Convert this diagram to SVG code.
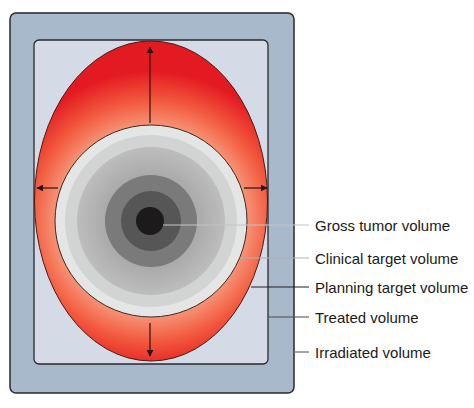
<svg xmlns="http://www.w3.org/2000/svg" width="474" height="408" viewBox="0 0 474 408">
<style>
.lbl{font-family:"Liberation Sans",Arial,sans-serif;font-size:15px;fill:#1a1a1a}
.arr{stroke:#3a1a12;stroke-width:1.3;fill:none}
.lead{stroke-width:1.2;fill:none}
</style>
<defs>
<radialGradient id="redg" gradientUnits="userSpaceOnUse" cx="151" cy="221" r="150">
<stop offset="0.62" stop-color="#f7997c"/>
<stop offset="0.8" stop-color="#f25a3e"/>
<stop offset="1" stop-color="#e41a22"/>
</radialGradient>
<radialGradient id="g74" gradientUnits="userSpaceOnUse" cx="151" cy="221" r="74">
<stop offset="0.6" stop-color="#a9a9a9"/>
<stop offset="1" stop-color="#bdbdbd"/>
</radialGradient>
<marker id="ah" viewBox="0 0 10 10" refX="9" refY="5" markerWidth="7" markerHeight="7" markerUnits="userSpaceOnUse" orient="auto">
<path d="M0,0 L10,5 L0,10 z" fill="#2a120c"/>
</marker>
</defs>
<g id="irradiated">
<rect x="10" y="13" width="284" height="380" rx="6" fill="#a9b9cc" stroke="#2a2a2a" stroke-width="1.5"/>
</g>
<g id="treated">
<rect x="34" y="40" width="234" height="324" rx="5" fill="#d4dbe6" stroke="#2a2a2a" stroke-width="1.3"/>
</g>
<g id="planning">
<ellipse cx="151" cy="201" rx="116.5" ry="160" fill="url(#redg)" stroke="#4a1a12" stroke-width="1"/>
</g>
<g id="clinical">
<circle cx="151" cy="221" r="96" fill="#e4e6e6" stroke="#3a2a22" stroke-width="1"/>
<circle cx="151" cy="221" r="86" fill="#d2d3d3"/>
<circle cx="151" cy="221" r="74" fill="url(#g74)"/>
</g>
<g id="gross">
<circle cx="151" cy="221" r="46" fill="#7a7a7a"/>
<circle cx="151" cy="221" r="30" fill="#565656"/>
<circle cx="150" cy="221" r="14" fill="#1c1a1a"/>
</g>
<g id="connectors">
<line class="arr" x1="150" y1="123" x2="150" y2="47" marker-end="url(#ah)"/>
<line class="arr" x1="150" y1="323" x2="150" y2="356" marker-end="url(#ah)"/>
<line class="arr" x1="58" y1="188" x2="37" y2="188" marker-end="url(#ah)"/>
<line class="arr" x1="244" y1="188" x2="267" y2="188" marker-end="url(#ah)"/>
<line class="lead" stroke="#c4c4c4" x1="163" y1="225" x2="309" y2="225"/>
<line class="lead" stroke="#b0b0b0" x1="240" y1="258" x2="309" y2="258"/>
<line class="lead" stroke="#1e1e1e" x1="251" y1="287" x2="309" y2="287"/>
<line class="lead" stroke="#4a4a4a" x1="268" y1="317" x2="309" y2="317"/>
<line class="lead" stroke="#6a6a6a" x1="294" y1="352" x2="309" y2="352"/>
</g>
<g id="labels">
<text class="lbl" x="315" y="231">Gross tumor volume</text>
<text class="lbl" x="315" y="264">Clinical target volume</text>
<text class="lbl" x="315" y="293">Planning target volume</text>
<text class="lbl" x="315" y="323">Treated volume</text>
<text class="lbl" x="315" y="358">Irradiated volume</text>
</g>
</svg>
